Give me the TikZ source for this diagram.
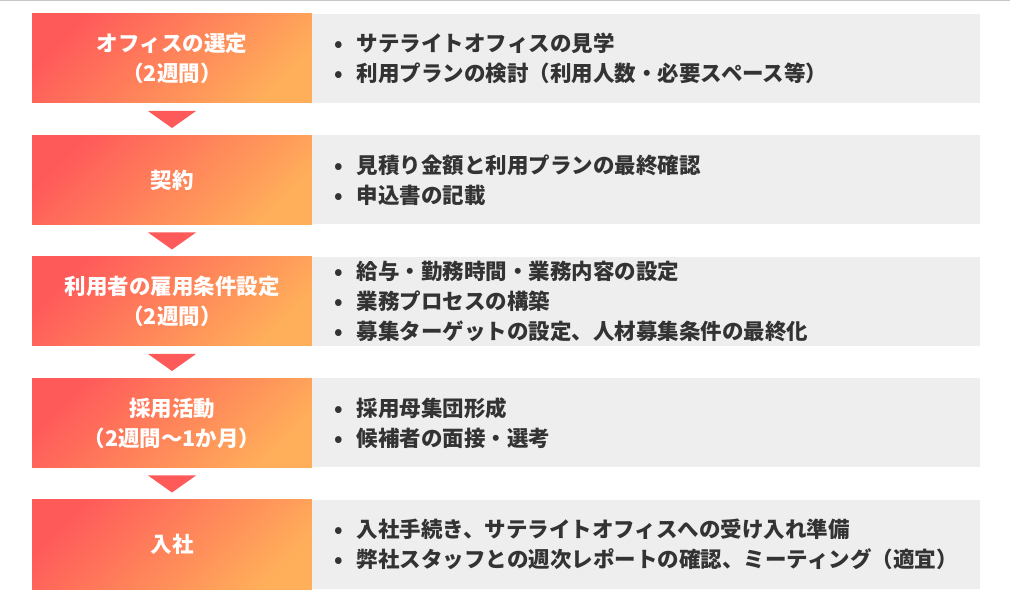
\documentclass[tikz,border=0pt]{standalone}
\usepackage{fontspec}
\setmainfont{Noto Sans CJK JP}
\usetikzlibrary{calc}
\definecolor{redc}{HTML}{FF5A5A}
\definecolor{orc}{HTML}{FFAE5A}
\definecolor{grayc}{HTML}{EEEEEE}
\definecolor{txtc}{HTML}{333333}
\definecolor{linec}{HTML}{C8C8C8}
\newcommand{\bul}{\makebox[23pt][l]{•}}
\tikzset{
  stage/.style={anchor=north west, minimum width=280pt, minimum height=89pt,
    inner sep=0pt, outer sep=0pt, left color=redc, right color=orc, shading angle=45,
    text=white, align=center, font=\fontsize{21.5}{30}\selectfont\bfseries},
  detail/.style={anchor=north west, minimum width=668pt, minimum height=89pt,
    inner xsep=22pt, inner ysep=0pt, outer sep=0pt, text width=624pt, fill=grayc,
    text=txtc, align=left, font=\fontsize{21.5}{30}\selectfont\bfseries},
  tri/.style={fill=redc, draw=none}
}
\begin{document}
\begin{tikzpicture}[x=1pt,y=-1pt]
\useasboundingbox (0,0) rectangle (1010,601);
\draw[linec, line width=1.5pt] (0,0.75) -- (1010,0.75);

\node[stage] (l1) at (32,14) {オフィスの選定\\（2週間）};
\node[detail] (r1) at (312,14) {\bul サテライトオフィスの見学\\\bul 利用プランの検討（利用人数・必要スペース等）};

\node[stage] (l2) at (32,135.5) {契約};
\node[detail] (r2) at (312,135.5) {\bul 見積り金額と利用プランの最終確認\\\bul 申込書の記載};

\node[stage] (l3) at (32,257) {利用者の雇用条件設定\\（2週間）};
\node[detail] (r3) at (312,257) {\bul 給与・勤務時間・業務内容の設定\\\bul 業務プロセスの構築\\\bul 募集ターゲットの設定、人材募集条件の最終化};

\node[stage] (l4) at (32,378.5) {採用活動\\（2週間〜1か月）};
\node[detail] (r4) at (312,378.5) {\bul 採用母集団形成\\\bul 候補者の面接・選考};

\node[stage] (l5) at (32,500) {入社};
\node[detail] (r5) at (312,500) {\bul 入社手続き、サテライトオフィスへの受け入れ準備\\\bul 弊社スタッフとの週次レポートの確認、ミーティング（適宜）};

\foreach \a in {1,2,3,4}{
  \fill[tri] ($(l\a.south)+(-24,8)$) -- ($(l\a.south)+(24,8)$) -- ($(l\a.south)+(0,25)$) -- cycle;
}
\end{tikzpicture}
\end{document}
